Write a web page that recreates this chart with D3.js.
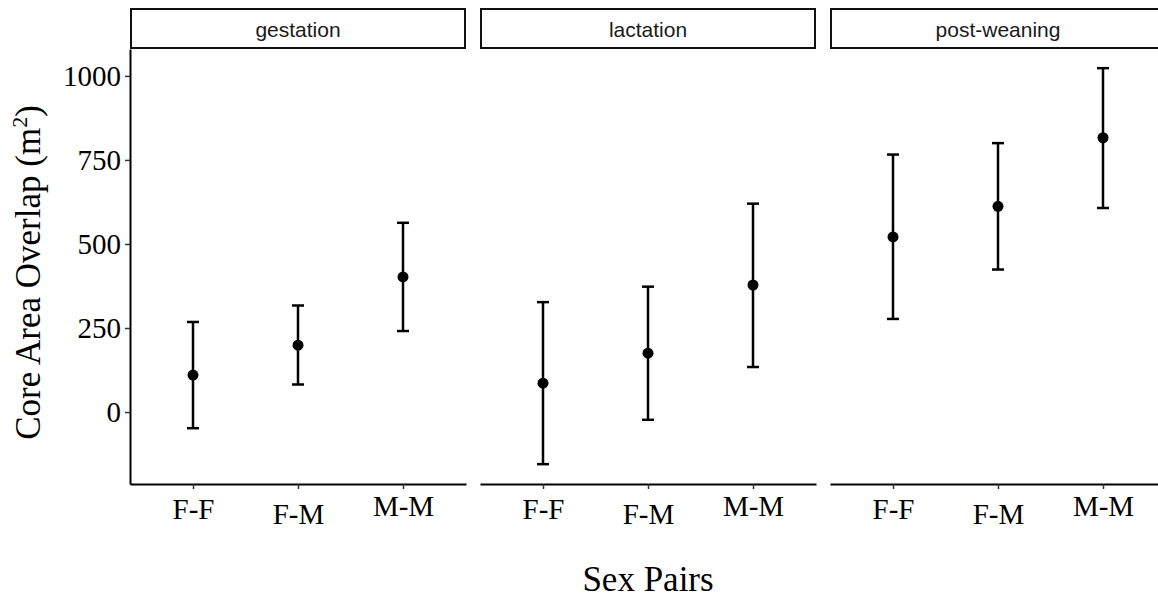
<!DOCTYPE html>
<html>
<head>
<meta charset="utf-8">
<script src="https://cdn.jsdelivr.net/npm/d3@7"></script>
<style>
  html, body { margin: 0; padding: 0; background: #ffffff; }
  svg { display: block; }
</style>
</head>
<body>
<svg id="chart" width="1158" height="602"></svg>
<script>
// ---- data ----
const phases = ["gestation", "lactation", "post-weaning"];
const pairs = ["F-F", "F-M", "M-M"];
const meanGestation = [110, 199, 402];
const lowerGestation = [-48, 82, 241];
const upperGestation = [268, 317, 563];
const meanLactation = [86, 175, 378];
const lowerLactation = [-155, -23, 134];
const upperLactation = [327, 373, 620];
const meanPostWeaning = [521, 612, 816];
const lowerPostWeaning = [277, 424, 607];
const upperPostWeaning = [766, 800, 1023];
const yTicks = [0, 250, 500, 750, 1000];
const yDomain = [-214, 1080];
const labelShift = { "F-F": 0, "F-M": 5, "M-M": -3 };

const series = {
  "gestation": { mean: meanGestation, lo: lowerGestation, hi: upperGestation },
  "lactation": { mean: meanLactation, lo: lowerLactation, hi: upperLactation },
  "post-weaning": { mean: meanPostWeaning, lo: lowerPostWeaning, hi: upperPostWeaning }
};

// ---- layout ----
const svg = d3.select("#chart");
const plotLeft = 130, plotRight = 1166, plotTop = 49, plotBottom = 484;
const stripTop = 9, stripH = 39;
const serif = "'Liberation Serif', 'Times New Roman', serif";
const sans = "'Liberation Sans', Arial, sans-serif";

const facet = d3.scaleBand().domain(phases).range([plotLeft, plotRight])
  .paddingInner(0.04).paddingOuter(0);
const y = d3.scaleLinear().domain(yDomain).range([plotBottom, plotTop]);

// y axis
const yAxis = svg.append("g").attr("transform", `translate(${plotLeft},0)`)
  .call(d3.axisLeft(y).tickValues(yTicks).tickFormat(d3.format("d"))
    .tickSize(5).tickSizeOuter(0).tickPadding(4));
yAxis.select(".domain").attr("stroke", "#000").attr("stroke-width", 2);
yAxis.selectAll(".tick line").attr("stroke", "#333").attr("stroke-width", 1.5);
yAxis.selectAll(".tick text").attr("font-family", serif).attr("font-size", 29)
  .attr("fill", "#000");

phases.forEach(ph => {
  const x0 = facet(ph), bw = facet.bandwidth();
  const x = d3.scalePoint().domain(pairs).range([x0, x0 + bw]).padding(0.6);

  // strip
  svg.append("rect").attr("x", x0 + 1).attr("y", stripTop).attr("width", bw - 2)
    .attr("height", stripH).attr("fill", "#fff").attr("stroke", "#111").attr("stroke-width", 2);
  svg.append("text").attr("x", x0 + bw / 2).attr("y", stripTop + 28)
    .attr("text-anchor", "middle").attr("font-family", sans).attr("font-size", 21)
    .attr("fill", "#1a1a1a").text(ph);

  // x axis
  const xa = svg.append("g").attr("transform", `translate(0,${plotBottom})`)
    .call(d3.axisBottom(x).tickSize(5).tickSizeOuter(0));
  xa.select(".domain").attr("stroke", "#000").attr("stroke-width", 2);
  xa.selectAll(".tick line").attr("stroke", "#333").attr("stroke-width", 1.5);
  xa.selectAll(".tick text").attr("font-family", serif).attr("font-size", 29)
    .attr("fill", "#000").attr("dy", null)
    .attr("y", d => 35 + labelShift[d]);

  // error bars + points
  const s = series[ph];
  const g = svg.append("g");
  pairs.forEach((p, i) => {
    const cx = x(p);
    g.append("line").attr("x1", cx).attr("x2", cx).attr("y1", y(s.lo[i])).attr("y2", y(s.hi[i]))
      .attr("stroke", "#000").attr("stroke-width", 2.5);
    [s.lo[i], s.hi[i]].forEach(v => {
      g.append("line").attr("x1", cx - 6).attr("x2", cx + 6).attr("y1", y(v)).attr("y2", y(v))
        .attr("stroke", "#000").attr("stroke-width", 2.5);
    });
    g.append("circle").attr("cx", cx).attr("cy", y(s.mean[i])).attr("r", 5.5).attr("fill", "#000");
  });
});

// axis titles
const yt = svg.append("text")
  .attr("transform", `translate(40,${(plotTop + plotBottom) / 2 + 6}) rotate(-90)`)
  .attr("text-anchor", "middle").attr("font-family", serif).attr("font-size", 35).attr("fill", "#000");
yt.append("tspan").text("Core Area Overlap (m");
yt.append("tspan").attr("font-size", 22).attr("dy", -13).text("2");
yt.append("tspan").attr("dy", 13).text(")");

svg.append("text").attr("x", (plotLeft + plotRight) / 2).attr("y", 591)
  .attr("text-anchor", "middle").attr("font-family", serif).attr("font-size", 35)
  .attr("fill", "#000").text("Sex Pairs");
</script>
</body>
</html>
